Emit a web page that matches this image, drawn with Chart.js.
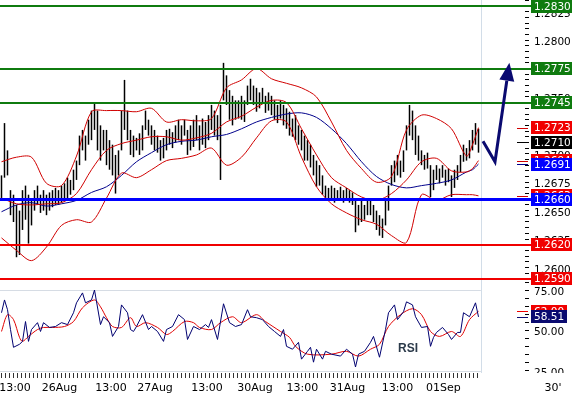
<!DOCTYPE html>
<html><head><meta charset="utf-8">
<script src="https://cdn.jsdelivr.net/npm/chart.js@4"></script>
<style>
html,body{margin:0;padding:0;background:#fff;}
#wrap{position:relative;width:574px;height:397px;overflow:hidden;background:#fff;}
canvas{position:absolute;left:0;}
#c1{top:0;}
#c2{top:282px;}
</style></head><body>
<div id="wrap"><canvas id="c1" width="574" height="290"></canvas><canvas id="c2" width="574" height="115"></canvas></div>
<script>
// ---------- DATA ----------
// 160 price bars (index = bar number)
const lows = [
1.2659,1.2679,1.2681,1.2646,1.2640,1.2609,1.2611,1.2633,1.2642,1.2621,
1.2637,1.2650,1.2655,1.2648,1.2650,1.2646,1.2650,1.2653,1.2655,1.2655,
1.2657,1.2659,1.2661,1.2664,1.2668,1.2677,1.2690,1.2703,1.2694,1.2708,
1.2712,1.2721,1.2703,1.2694,1.2703,1.2690,1.2686,1.2681,1.2665,1.2681,
1.2703,1.2721,1.2712,1.2699,1.2697,1.2703,1.2699,1.2703,1.2721,1.2716,
1.2708,1.2703,1.2701,1.2694,1.2696,1.2703,1.2708,1.2705,1.2710,1.2712,
1.2708,1.2716,1.2699,1.2703,1.2706,1.2712,1.2703,1.2708,1.2705,1.2712,
1.2721,1.2716,1.2712,1.2677,1.2747,1.2743,1.2730,1.2725,1.2730,1.2731,
1.2730,1.2728,1.2743,1.2747,1.2743,1.2737,1.2740,1.2744,1.2736,1.2738,
1.2734,1.2730,1.2727,1.2731,1.2725,1.2722,1.2716,1.2715,1.2712,1.2708,
1.2703,1.2694,1.2694,1.2688,1.2681,1.2671,1.2672,1.2664,1.2659,1.2659,
1.2661,1.2657,1.2659,1.2659,1.2657,1.2661,1.2657,1.2655,1.2631,1.2637,
1.2640,1.2642,1.2646,1.2646,1.2640,1.2633,1.2628,1.2626,1.2637,1.2650,
1.2672,1.2675,1.2681,1.2679,1.2684,1.2703,1.2716,1.2712,1.2699,1.2694,
1.2690,1.2686,1.2687,1.2662,1.2668,1.2677,1.2674,1.2679,1.2672,1.2675,
1.2662,1.2670,1.2677,1.2684,1.2693,1.2694,1.2696,1.2703,1.2708,1.2701];
const highs = [
1.2681,1.2727,1.2703,1.2668,1.2664,1.2655,1.2650,1.2668,1.2672,1.2664,
1.2659,1.2668,1.2672,1.2664,1.2668,1.2664,1.2666,1.2668,1.2670,1.2668,
1.2672,1.2674,1.2679,1.2677,1.2686,1.2694,1.2716,1.2721,1.2716,1.2730,
1.2738,1.2745,1.2738,1.2725,1.2721,1.2721,1.2712,1.2708,1.2699,1.2703,
1.2738,1.2765,1.2738,1.2721,1.2716,1.2714,1.2718,1.2725,1.2738,1.2730,
1.2725,1.2721,1.2716,1.2712,1.2714,1.2721,1.2722,1.2719,1.2725,1.2730,
1.2725,1.2730,1.2721,1.2725,1.2730,1.2734,1.2725,1.2731,1.2728,1.2734,
1.2743,1.2738,1.2734,1.2743,1.2780,1.2769,1.2756,1.2751,1.2747,1.2747,
1.2751,1.2747,1.2760,1.2766,1.2760,1.2758,1.2754,1.2758,1.2751,1.2754,
1.2751,1.2747,1.2743,1.2747,1.2743,1.2740,1.2737,1.2731,1.2734,1.2725,
1.2721,1.2716,1.2712,1.2708,1.2699,1.2694,1.2690,1.2681,1.2672,1.2670,
1.2672,1.2670,1.2668,1.2671,1.2668,1.2670,1.2668,1.2666,1.2659,1.2655,
1.2659,1.2655,1.2659,1.2661,1.2655,1.2650,1.2646,1.2643,1.2659,1.2672,
1.2690,1.2694,1.2699,1.2694,1.2703,1.2725,1.2743,1.2738,1.2725,1.2716,
1.2703,1.2699,1.2701,1.2690,1.2686,1.2690,1.2687,1.2690,1.2686,1.2687,
1.2681,1.2686,1.2690,1.2699,1.2708,1.2705,1.2712,1.2721,1.2727,1.2722];
const lastPrice = 1.2710;

// Bollinger bands and moving average, read at these bar numbers
const lineBars = [0,5,10,15,20,25,30,35,40,45,50,55,60,65,70,75,80,85,90,95,100,105,110,115,120,125,130,135,140,145,150,155,157,159];
const upperBand = [1.2693,1.2697,1.2697,1.2674,1.2672,1.2698,1.2737,1.2738,1.2738,1.2737,1.2740,1.2728,1.2730,1.2729,1.2731,1.2758,1.2765,1.2775,1.2766,1.2762,1.2758,1.2750,1.2728,1.2703,1.2687,1.2675,1.2680,1.2721,1.2734,1.2731,1.2722,1.2698,1.2708,1.2723];
const middleBand = [1.2661,1.2656,1.2655,1.2656,1.2657,1.2665,1.2686,1.2703,1.2709,1.2712,1.2715,1.2715,1.2712,1.2714,1.2718,1.2728,1.2733,1.2741,1.2747,1.2745,1.2722,1.2699,1.2679,1.2670,1.2662,1.2659,1.2665,1.2677,1.2693,1.2696,1.2685,1.2684,1.2687,1.2694];
const lowerBand = [1.2626,1.2615,1.2606,1.2618,1.2637,1.2642,1.2640,1.2661,1.2683,1.2679,1.2686,1.2694,1.2696,1.2699,1.2705,1.2690,1.2697,1.2714,1.2729,1.2728,1.2697,1.2671,1.2656,1.2648,1.2642,1.2638,1.2628,1.2622,1.2664,1.2659,1.2664,1.2664,1.2664,1.2663];
const movingAvg = [1.2649,1.2655,1.2657,1.2654,1.2656,1.2659,1.2666,1.2671,1.2681,1.2693,1.2701,1.2708,1.2711,1.2712,1.2715,1.2717,1.2722,1.2728,1.2732,1.2735,1.2736,1.2732,1.2722,1.2709,1.2693,1.2680,1.2673,1.2670,1.2672,1.2674,1.2677,1.2684,1.2686,1.2691];

// Horizontal levels
const resistances = [1.2830, 1.2775, 1.2745];
const pivotLevel = 1.2660;
const supports = [1.2620, 1.2590];

// Projection arrow (bar number, price)
const arrowBars = [160.5, 164.5, 169.3];
const arrowPrices = [1.2711, 1.2693, 1.2780];
const nowBar = 159.8;

// RSI and its signal line
const rsiBars = [0,1,2,3,4,6,7,8,9,10,12,13,14,16,18,20,22,24,25,27,28,30,31,33,34,36,37,39,40,42,43,44,45,47,49,50,52,54,55,57,59,61,62,64,66,68,69,70,72,74,76,78,80,82,83,85,87,89,91,93,94,95,97,99,100,102,103,104,105,107,108,110,113,115,117,118,119,121,123,124,126,128,129,131,132,134,135,137,138,140,142,143,144,145,147,149,150,152,153,154,156,158,159];
const rsiValues = [61.1,69.1,63.0,50.6,39.5,41.4,43.2,55.6,43.2,50.6,54.9,49.4,54.9,51.9,52.5,54.9,53.7,61.1,67.3,73.5,67.3,69.1,75.3,53.7,58.6,54.9,46.3,52.5,66.0,61.1,50.6,49.4,52.5,59.9,50.6,52.5,49.4,43.2,50.6,52.5,59.9,56.8,44.4,52.5,50.6,53.7,51.9,56.8,44.4,66.7,54.9,52.5,53.7,63.0,58.6,58.0,56.8,52.5,49.4,46.3,50.6,40.1,38.3,42.6,32.1,37.0,39.5,30.2,38.3,32.1,37.0,35.2,34.0,38.3,35.2,27.2,35.2,37.0,42.6,46.3,33.3,50.6,61.1,66.0,56.8,61.7,67.9,66.0,58.6,51.9,52.5,40.1,45.7,48.8,51.9,47.5,44.4,48.8,48.8,61.1,58.6,67.3,58.51];
const sigBars = [0,2,4,6,7,9,12,14,17,21,24,27,31,33,35,37,40,43,45,48,52,55,57,61,64,66,70,73,77,80,85,88,93,96,98,102,110,115,119,123,126,129,133,137,140,143,146,150,153,156,159];
const sigValues = [49.4,59.9,56.8,45.7,43.2,46.3,50.6,51.9,51.9,52.5,55.6,64.2,69.1,64.8,58.0,52.5,51.9,58.0,52.5,54.9,51.9,47.5,49.4,55.6,54.9,51.9,50.6,54.9,58.6,54.9,59.9,55.6,49.4,45.7,40.1,35.2,35.2,37.0,34.0,38.3,41.4,52.5,59.9,63.6,59.9,49.4,46.3,49.4,46.3,56.8,62.0];
const rsiGridValues = [25, 75];

// Time axis labels (bar number where each label sits)
const timeLabels = ['13:00','26Aug','13:00','27Aug','13:00','30Aug','13:00','31Aug','13:00','01Sep'];
const timeLabelBars = [4.5, 19.3, 36.5, 51.2, 68.5, 84.5, 100.3, 115.3, 132.0, 147.3];
const timeframe = "30'";

// ---------- STYLE ----------
const FAM = 'DejaVu Sans';
const AX_FONT = '10.5px "DejaVu Sans"';
const X_MIN = -0.5, X_MAX = 174.5;
const P_MIN = 1.25872, P_MAX = 1.28353;
const R_MIN = 23.44, R_MAX = 80.31;
const GREEN = '#0f7b0f', BLUE = '#0000ff', RED = '#f00000', BAND = '#d00000', MA = '#00008b';
const NAVY = '#0a0a70', NOW = '#d2dde8';

const pts = (xs, ys) => xs.map((x, i) => ({x, y: ys[i]}));

function tag(ctx, a, py, text, bg, w) {
  const x0 = a.right + 6, h = 13;
  const top = Math.round(py - h / 2);
  ctx.fillStyle = bg; ctx.fillRect(x0, top, w, h);
  ctx.fillStyle = '#fff'; ctx.font = AX_FONT; ctx.textAlign = 'left'; ctx.textBaseline = 'middle';
  ctx.fillText(text, x0 + 3, top + h / 2 + 0.5);
}
function dash(ctx, a, py, color) {
  ctx.fillStyle = color; ctx.fillRect(a.right - 8, Math.round(py), 11, 1);
}
function nowLine(chart) {
  const {ctx, chartArea: a, scales: {x}} = chart;
  const nx = Math.round(x.getPixelForValue(nowBar)) + 0.5;
  ctx.save(); ctx.strokeStyle = NOW; ctx.lineWidth = 1;
  ctx.beginPath(); ctx.moveTo(nx, a.top); ctx.lineTo(nx, a.bottom); ctx.stroke(); ctx.restore();
}

const mainDeco = {
  id: 'mainDeco',
  beforeDatasetsDraw(chart) { nowLine(chart); },
  afterDatasetsDraw(chart) {
    const {ctx, chartArea: a, scales: {x, y}} = chart;
    ctx.save();
    const hline = (v, color, w) => {
      let py = Math.round(y.getPixelForValue(v)); if (w % 2) py += 0.5;
      ctx.strokeStyle = color; ctx.lineWidth = w;
      ctx.beginPath(); ctx.moveTo(a.left, py); ctx.lineTo(a.right + 6, py); ctx.stroke();
    };
    resistances.forEach(v => hline(v, GREEN, 2));
    hline(pivotLevel, BLUE, 3);
    supports.forEach(v => hline(v, RED, 2));
    // arrow
    const P = arrowBars.map((b, i) => [x.getPixelForValue(b), y.getPixelForValue(arrowPrices[i])]);
    const tip = P[2], prev = P[1];
    const dx = tip[0] - prev[0], dy = tip[1] - prev[1], len = Math.hypot(dx, dy);
    const ux = dx / len, uy = dy / len, hl = 18, hw = 7.5;
    const bx = tip[0] - ux * hl, by = tip[1] - uy * hl;
    ctx.strokeStyle = NAVY; ctx.fillStyle = NAVY; ctx.lineWidth = 3; ctx.lineJoin = 'miter';
    ctx.beginPath(); ctx.moveTo(P[0][0], P[0][1]); ctx.lineTo(P[1][0], P[1][1]); ctx.lineTo(bx, by); ctx.stroke();
    ctx.beginPath(); ctx.moveTo(tip[0], tip[1]);
    ctx.lineTo(bx - uy * hw, by + ux * hw); ctx.lineTo(bx + uy * hw, by - ux * hw); ctx.closePath(); ctx.fill();
    ctx.restore();
  },
  afterDraw(chart) {
    const {ctx, chartArea: a, scales: {y}} = chart;
    ctx.save();
    const last = arr => arr[arr.length - 1];
    const up = last(upperBand), mid = last(middleBand), lo = last(lowerBand), ma = last(movingAvg);
    const W = 41;
    [[up, BAND], [mid, BAND], [lo, BAND], [ma, MA], [lastPrice, '#000']].forEach(([v, c]) => dash(ctx, a, y.getPixelForValue(v), c));
    tag(ctx, a, y.getPixelForValue(up), up.toFixed(4), RED, W);
    tag(ctx, a, y.getPixelForValue(mid), mid.toFixed(4), RED, W);
    tag(ctx, a, y.getPixelForValue(lo), lo.toFixed(4), RED, W);
    tag(ctx, a, y.getPixelForValue(lastPrice), lastPrice.toFixed(4), '#000', W);
    tag(ctx, a, y.getPixelForValue(ma), ma.toFixed(4), BLUE, W);
    resistances.forEach(v => tag(ctx, a, y.getPixelForValue(v), v.toFixed(4), GREEN, W));
    tag(ctx, a, y.getPixelForValue(pivotLevel), pivotLevel.toFixed(4), BLUE, W);
    supports.forEach(v => tag(ctx, a, y.getPixelForValue(v), v.toFixed(4), RED, W));
    ctx.restore();
  }
};

const lineDs = (data, color) => ({type: 'line', data, borderColor: color, borderWidth: 1, pointRadius: 0, tension: 0.3, order: 1});

new Chart(document.getElementById('c1'), {
  type: 'bar',
  data: {datasets: [
    lineDs(pts(lineBars, upperBand), BAND),
    lineDs(pts(lineBars, middleBand), BAND),
    lineDs(pts(lineBars, lowerBand), BAND),
    lineDs(pts(lineBars, movingAvg), MA),
    {type: 'bar', data: highs.map((h, k) => ({x: k, y: [lows[k], h]})), backgroundColor: '#000', barThickness: 1.5, inflateAmount: 0, order: 2}
  ]},
  options: {
    responsive: false, animation: false, devicePixelRatio: 1,
    layout: {padding: {top: 0, left: 0, right: 0, bottom: 8}},
    plugins: {legend: {display: false}, tooltip: {enabled: false}},
    scales: {
      x: {type: 'linear', min: X_MIN, max: X_MAX, offset: false, display: false},
      y: {position: 'right', min: P_MIN, max: P_MAX,
        afterFit(s) { s.width = 49; s.paddingTop = 0; s.paddingBottom = 0; },
        border: {display: false},
        grid: {drawOnChartArea: false, drawTicks: true, tickLength: 4, tickColor: '#000'},
        ticks: {stepSize: 0.0005, includeBounds: false, padding: 5, labelOffset: 2.5, color: '#000', autoSkip: false,
          font: {family: FAM, size: 10.5},
          callback: v => { const n = Math.round(v * 10000); return n % 25 === 0 ? (n / 10000).toFixed(4) : ''; }}
      }
    }
  },
  plugins: [mainDeco]
});

// ---------- RSI panel ----------
const xTicks = [];
for (let v = 0; v <= nowBar; v += 4 / 3) xTicks.push({value: v});
timeLabels.forEach((t, i) => xTicks.push({value: timeLabelBars[i], lab: t}));
xTicks.sort((p, q) => p.value - q.value);

const rsiDeco = {
  id: 'rsiDeco',
  beforeDatasetsDraw(chart) {
    const {ctx, chartArea: a, scales: {x, y}} = chart;
    const nx = x.getPixelForValue(nowBar);
    ctx.save(); ctx.strokeStyle = '#d6dce4'; ctx.lineWidth = 1;
    rsiGridValues.forEach(v => {
      const py = Math.round(y.getPixelForValue(v)) + 0.5;
      ctx.beginPath(); ctx.moveTo(a.left, py); ctx.lineTo(nx, py); ctx.stroke();
    });
    ctx.restore();
    nowLine(chart);
    ctx.save();
    ctx.fillStyle = '#2b3a4a'; ctx.font = 'bold 12px "Liberation Sans"'; ctx.textAlign = 'center'; ctx.textBaseline = 'middle';
    ctx.fillText('RSI', a.left + 408, a.top + 67);
    ctx.restore();
  },
  afterDraw(chart) {
    const {ctx, chartArea: a, scales: {y}} = chart;
    ctx.save();
    // bottom label, clipped by the panel edge as in the reference
    ctx.beginPath(); ctx.rect(a.right, a.top, 60, a.bottom - a.top); ctx.clip();
    ctx.fillStyle = '#000'; ctx.font = AX_FONT; ctx.textAlign = 'left'; ctx.textBaseline = 'middle';
    ctx.fillText((25).toFixed(2), a.right + 9, y.getPixelForValue(25) + 2.5);
    ctx.restore();
    ctx.save();
    const s = sigValues[sigValues.length - 1], r = rsiValues[rsiValues.length - 1];
    dash(ctx, a, y.getPixelForValue(s), RED);
    dash(ctx, a, y.getPixelForValue(r), NAVY);
    tag(ctx, a, y.getPixelForValue(s), s.toFixed(2), RED, 36);
    tag(ctx, a, y.getPixelForValue(r), r.toFixed(2), NAVY, 36);
    ctx.fillStyle = '#000'; ctx.font = '11px "DejaVu Sans"'; ctx.textAlign = 'center'; ctx.textBaseline = 'middle';
    ctx.fillText(timeframe, a.right + 28, a.bottom + 15);
    ctx.restore();
  }
};

new Chart(document.getElementById('c2'), {
  type: 'line',
  data: {datasets: [
    {data: pts(sigBars, sigValues), borderColor: '#e00000', borderWidth: 1, pointRadius: 0, tension: 0.3, order: 2},
    {data: pts(rsiBars, rsiValues), borderColor: '#000070', borderWidth: 1, pointRadius: 0, tension: 0, order: 1}
  ]},
  options: {
    responsive: false, animation: false, devicePixelRatio: 1,
    layout: {padding: 0},
    plugins: {legend: {display: false}, tooltip: {enabled: false}},
    scales: {
      x: {type: 'linear', min: X_MIN, max: X_MAX, offset: false, position: 'bottom',
        afterBuildTicks(s) { s.ticks = xTicks.map(t => ({...t})); },
        afterFit(s) { s.height = 24; s.paddingLeft = 0; s.paddingRight = 0; },
        border: {display: false},
        grid: {drawOnChartArea: false, drawTicks: true, tickLength: 5,
          tickColor: c => (c.tick && c.tick.lab) ? 'rgba(0,0,0,0)' : '#333'},
        ticks: {autoSkip: false, maxRotation: 0, minRotation: 0, padding: 4, color: '#000',
          font: {family: FAM, size: 11},
          callback: (v, i, t) => t[i].lab || ''}
      },
      y: {position: 'right', min: R_MIN, max: R_MAX,
        afterFit(s) { s.width = 49; s.paddingTop = 0; s.paddingBottom = 0; },
        border: {display: false},
        grid: {drawOnChartArea: false, drawTicks: true, tickLength: 4, tickColor: '#000'},
        ticks: {stepSize: 5, includeBounds: false, padding: 5, labelOffset: 2, color: '#000', autoSkip: false,
          font: {family: FAM, size: 10.5},
          callback: v => (v === 50 || v === 75) ? v.toFixed(2) : ''}
      }
    }
  },
  plugins: [rsiDeco]
});
</script>
</body></html>
